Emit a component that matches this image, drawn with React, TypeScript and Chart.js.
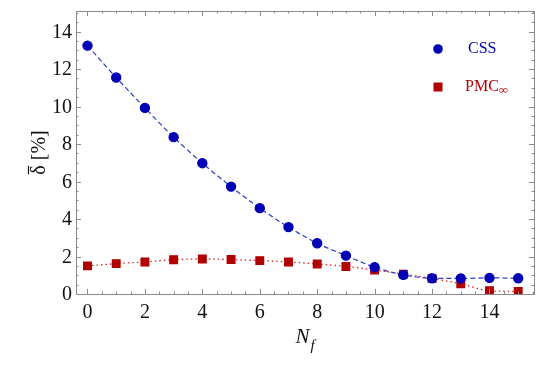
import React, { useEffect, useRef } from "react";
import { Chart, registerables } from "chart.js";

Chart.register(...registerables);

const nf = [0, 1, 2, 3, 4, 5, 6, 7, 8, 9, 10, 11, 12, 13, 14, 15];
const cssValues = [13.25, 11.55, 9.93, 8.37, 6.98, 5.73, 4.58, 3.57, 2.71, 2.05, 1.43, 1.02, 0.84, 0.83, 0.86, 0.84];
const pmcValues = [1.5, 1.62, 1.71, 1.83, 1.87, 1.84, 1.78, 1.71, 1.6, 1.47, 1.28, 1.06, 0.83, 0.55, 0.17, 0.14];
const xTicks = [0, 2, 4, 6, 8, 10, 12, 14];
const yTicks = [0, 2, 4, 6, 8, 10, 12, 14];
const seriesNames = ["CSS", "PMC"];

const BLUE = "#0000b4";
const BLUE_LINE = "#2a3cc8";
const RED = "#b00000";
const RED_LINE = "#e02020";
const AXIS = "#8a8a8a";
const SERIF = "'Liberation Serif', 'DejaVu Serif', serif";

Chart.defaults.font.family = SERIF;

const framePlugin = {
  id: "framePlugin",
  afterDraw(chart: any) {
    const ctx = chart.ctx;
    const { left, right, top, bottom } = chart.chartArea;
    const xs = chart.scales.x;
    const ys = chart.scales.y;
    ctx.save();
    ctx.strokeStyle = AXIS;
    ctx.lineWidth = 1;
    ctx.strokeRect(Math.round(left) + 0.5, Math.round(top) + 0.5, Math.round(right - left), Math.round(bottom - top));
    for (let v = Math.ceil(xs.min * 2) / 2; v <= xs.max + 1e-9; v += 0.5) {
      const px = Math.round(xs.getPixelForValue(v)) + 0.5;
      const major = xTicks.includes(v);
      const len = major ? 5 : 2.5;
      ctx.beginPath();
      ctx.moveTo(px, bottom);
      ctx.lineTo(px, bottom - len);
      ctx.moveTo(px, top);
      ctx.lineTo(px, top + len);
      ctx.stroke();
    }
    for (let v = Math.ceil(ys.min * 2) / 2; v <= ys.max + 1e-9; v += 0.5) {
      const py = Math.round(ys.getPixelForValue(v)) + 0.5;
      const major = yTicks.includes(v);
      const len = major ? 5 : 2.5;
      ctx.beginPath();
      ctx.moveTo(left, py);
      ctx.lineTo(left + len, py);
      ctx.moveTo(right, py);
      ctx.lineTo(right - len, py);
      ctx.stroke();
    }
    // tick labels (serif)
    ctx.fillStyle = "#111";
    ctx.font = `20px ${SERIF}`;
    ctx.textAlign = "center";
    ctx.textBaseline = "alphabetic";
    for (const v of xTicks) {
      ctx.fillText(String(v), xs.getPixelForValue(v), 318);
    }
    ctx.textAlign = "right";
    ctx.textBaseline = "middle";
    for (const v of yTicks) {
      ctx.fillText(String(v), left - 4, ys.getPixelForValue(v) + 1);
    }
    // x title N_f
    const cx = (left + right) / 2;
    ctx.textBaseline = "alphabetic";
    ctx.font = `italic 21px ${SERIF}`;
    const nW = ctx.measureText("N").width;
    ctx.font = `italic 15px ${SERIF}`;
    const fW = ctx.measureText("f").width;
    const startX = cx - (nW + fW + 1) / 2;
    ctx.font = `italic 21px ${SERIF}`;
    ctx.textAlign = "left";
    ctx.fillText("N", startX, 343);
    ctx.font = `italic 15px ${SERIF}`;
    ctx.fillText("f", startX + nW + 1, 350);
    // y title
    ctx.save();
    ctx.translate(45, (top + bottom) / 2);
    ctx.rotate(-Math.PI / 2);
    ctx.font = `20px ${SERIF}`;
    const dW = ctx.measureText("δ").width;
    const rest = " [%]";
    const rW = ctx.measureText(rest).width;
    const sx = -(dW + rW) / 2;
    ctx.textAlign = "left";
    ctx.fillText("δ", sx, 0);
    ctx.fillText(rest, sx + dW, 0);
    ctx.strokeStyle = "#111";
    ctx.lineWidth = 1.2;
    ctx.beginPath();
    ctx.moveTo(sx + 0.5, -16.5);
    ctx.lineTo(sx + dW - 0.5, -16.5);
    ctx.stroke();
    ctx.restore();
    // legend
    ctx.fillStyle = BLUE;
    ctx.beginPath();
    ctx.arc(438, 49, 4.8, 0, Math.PI * 2);
    ctx.fill();
    ctx.font = `16px ${SERIF}`;
    ctx.textBaseline = "middle";
    ctx.textAlign = "left";
    ctx.fillText(seriesNames[0], 468, 49);
    ctx.fillStyle = RED;
    ctx.fillRect(433.5, 82.5, 9, 9);
    ctx.fillText(seriesNames[1], 465, 87);
    const pW = ctx.measureText(seriesNames[1]).width;
    ctx.font = `13px ${SERIF}`;
    ctx.fillText("∞", 465 + pW, 91);
    ctx.restore();
  },
};

export default function App() {
  const ref = useRef<HTMLCanvasElement | null>(null);
  useEffect(() => {
    if (!ref.current) return;
    const chart = new Chart(ref.current, {
      type: "line",
      data: {
        datasets: [
          {
            label: seriesNames[0],
            data: nf.map((x, i) => ({ x, y: cssValues[i] })),
            borderColor: BLUE_LINE,
            borderWidth: 1.2,
            borderDash: [5, 3],
            backgroundColor: BLUE,
            pointBackgroundColor: BLUE,
            pointBorderColor: BLUE,
            pointRadius: 4.6,
            pointStyle: "circle",
            tension: 0.4,
            cubicInterpolationMode: "monotone",
          },
          {
            label: seriesNames[1],
            data: nf.map((x, i) => ({ x, y: pmcValues[i] })),
            borderColor: RED_LINE,
            borderWidth: 1.3,
            borderDash: [1.5, 3],
            backgroundColor: RED,
            pointBackgroundColor: RED,
            pointBorderColor: RED,
            pointRadius: 5.4,
            pointStyle: "rect",
            tension: 0.4,
            cubicInterpolationMode: "monotone",
          },
        ],
      },
      options: {
        animation: false,
        responsive: true,
        maintainAspectRatio: false,
        layout: { padding: { left: 0, right: 11, top: 11, bottom: 0 } },
        plugins: { legend: { display: false }, tooltip: { enabled: false } },
        scales: {
          x: {
            type: "linear",
            min: -0.4,
            max: 15.55,
            grid: { display: false, drawTicks: false },
            border: { display: false },
            afterBuildTicks: (s: any) => {
              s.ticks = xTicks.map((v) => ({ value: v }));
            },
            afterFit: (s: any) => {
              s.height = 77;
            },
            ticks: {
              display: false,
              font: { family: SERIF, size: 20 },
              autoSkip: false,
            },
          },
          y: {
            type: "linear",
            min: 0,
            max: 15.1,
            grid: { display: false, drawTicks: false },
            border: { display: false },
            afterBuildTicks: (s: any) => {
              s.ticks = yTicks.map((v) => ({ value: v }));
            },
            afterFit: (s: any) => {
              s.width = 76;
            },
            ticks: {
              display: false,
              font: { family: SERIF, size: 20 },
              autoSkip: false,
            },
          },
        },
      },
      plugins: [framePlugin],
    });
    return () => chart.destroy();
  }, []);
  return (
    <div style={{ position: "fixed", left: 0, top: 0, width: 545, height: 371, background: "#fff" }}>
      <canvas ref={ref} />
    </div>
  );
}
